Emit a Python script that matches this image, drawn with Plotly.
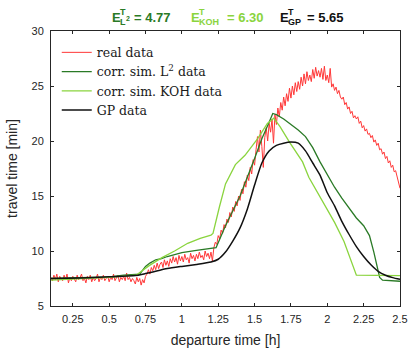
import plotly.graph_objects as go

# ---- data ----
red_x0 = 0.10
red_dx = 0.01
red_y = [
    7.6, 7.3, 7.8, 7.4, 7.9, 7.2, 7.7, 7.5, 7.3, 7.8,
    7.4, 7.9, 7.1, 7.6, 7.3, 7.7, 7.5, 7.2, 7.8, 7.4,
    7.6, 7.9, 7.3, 7.5, 7.1, 7.7, 7.4, 7.8, 7.2, 7.6,
    7.3, 7.5, 7.9, 7.2, 7.6, 7.4, 7.8, 7.3, 7.5, 7.7,
    7.2, 7.6, 7.4, 7.9, 7.3, 7.5, 7.8, 7.2, 7.6, 7.4,
    7.7, 7.3, 8.0, 7.4, 7.6, 7.2, 7.5, 7.3, 7.0, 7.6,
    7.2, 7.5, 6.9, 7.4, 7.1, 7.7, 7.9, 8.3, 7.9, 8.5,
    8.2, 8.7, 8.3, 8.9, 8.4, 8.8, 9.0, 8.5, 9.2, 8.7,
    9.1, 8.6, 9.3, 8.9, 9.5, 9.0, 9.4, 8.8, 9.6, 9.1,
    9.5, 9.0, 9.7, 9.2, 9.4, 8.9, 9.8, 9.3, 9.6, 9.1,
    9.7, 9.3, 9.9, 9.4, 9.6, 9.2, 10.0, 9.5, 9.8, 9.3,
    9.9, 9.1, 10.3, 10.8, 10.6, 11.4, 11.1, 11.9, 11.6, 12.4,
    12.1, 12.9, 12.6, 13.5, 13.1, 14.0, 13.6, 14.5, 14.1, 15.0,
    14.6, 15.6, 15.2, 16.3, 15.8, 16.9, 16.4, 17.6, 17.0, 18.3,
    17.8, 19.2, 20.4, 19.0, 21.0, 19.5, 17.6, 20.3, 21.2, 20.0,
    21.6, 20.8, 22.0, 19.8, 22.4, 21.5, 23.0, 22.2, 23.5, 22.8,
    24.0, 23.2, 24.3, 23.6, 24.8, 23.9, 25.0, 24.2, 25.3, 24.5,
    25.4, 24.7, 25.8, 25.0, 26.1, 25.2, 26.3, 25.5, 26.0, 25.4,
    26.5, 25.7, 26.7, 25.9, 26.4, 25.8, 26.6, 25.6, 26.8, 25.5,
    26.0, 25.3, 26.6, 24.9, 25.2, 24.6, 24.9, 24.3, 24.6, 24.0,
    23.8, 24.0, 23.3, 23.5, 22.9, 23.1, 22.5, 22.7, 22.1, 22.3,
    22.0, 22.2, 21.6, 21.8, 21.2, 21.4, 20.9, 21.1, 20.6, 20.7,
    20.3, 20.5, 19.9, 20.1, 19.6, 19.8, 19.2, 19.3, 18.8, 19.0,
    18.4, 18.6, 18.0, 18.2, 17.6, 17.8, 17.2, 17.3, 16.7, 16.4,
    15.7,
]
red_x = [round(red_x0 + i * red_dx, 4) for i in range(len(red_y))]

l2_x = [0.1, 0.3, 0.5, 0.6, 0.71, 0.75, 0.78, 0.82, 0.86, 0.9, 1.0, 1.1, 1.2, 1.235,
        1.3, 1.4, 1.5, 1.55, 1.6, 1.625, 1.65, 1.7, 1.75, 1.8, 1.85, 1.9, 1.95, 2.0,
        2.05, 2.1, 2.15, 2.2, 2.25, 2.29, 2.32, 2.36, 2.38, 2.5]
l2_y = [7.5, 7.55, 7.65, 7.8, 7.9, 8.6, 8.9, 9.2, 9.3, 9.5, 9.85, 10.05, 10.2, 10.3,
        12.3, 15.0, 18.4, 20.2, 21.7, 22.5, 22.4, 22.0, 21.5, 21.0, 20.4, 19.4, 18.1, 16.9,
        15.8, 14.8, 13.9, 13.0, 12.3, 11.4, 9.9, 7.6, 7.35, 7.25]

koh_x = [0.1, 0.3, 0.5, 0.685, 0.775, 0.863, 0.95, 1.04, 1.126, 1.2, 1.214, 1.258, 1.3,
         1.368, 1.434, 1.52, 1.588, 1.632, 1.675, 1.74, 1.786, 1.83, 1.873, 1.96, 2.05,
         2.115, 2.2, 2.5]
koh_y = [7.36, 7.45, 7.6, 7.8, 8.67, 9.4, 10.0, 10.7, 11.15, 11.45, 11.6, 14.0, 16.1,
         17.85, 18.7, 20.2, 21.6, 22.07, 21.3, 19.9, 19.0, 18.1, 16.7, 14.65, 12.6,
         10.86, 7.8, 7.77]

gp_x = [0.1, 0.3, 0.5, 0.7, 0.75, 0.8, 0.9, 1.0, 1.1, 1.2, 1.25, 1.3, 1.35, 1.4, 1.45,
        1.5, 1.55, 1.6, 1.65, 1.7, 1.75, 1.8, 1.85, 1.9, 1.95, 2.0, 2.05, 2.1, 2.15,
        2.2, 2.25, 2.3, 2.35, 2.4, 2.45, 2.5]
gp_y = [7.5, 7.55, 7.65, 7.8, 7.95, 8.1, 8.4, 8.6, 8.78, 9.0, 9.25, 9.9, 10.9, 12.1, 13.8,
        16.0, 18.0, 19.1, 19.6, 19.8, 19.9, 19.8, 19.1, 18.0, 16.9, 15.3, 14.1, 12.7, 11.5,
        10.4, 9.5, 8.75, 8.15, 7.8, 7.58, 7.42]

x_ticks = [0.25, 0.5, 0.75, 1, 1.25, 1.5, 1.75, 2, 2.25, 2.5]
x_tick_labels = ["0.25", "0.5", "0.75", "1", "1.25", "1.5", "1.75", "2", "2.25", "2.5"]
y_ticks = [5, 10, 15, 20, 25, 30]

legend_names = ["real data", "corr. sim. L<sup>2</sup> data", "corr. sim. KOH data", "GP data"]
err_values = ["4.77", "6.30", "5.65"]

# ---- styles ----
RED = "rgb(255,55,55)"
DGREEN = "#2a7a26"
LGREEN = "#8ad43e"
BLACK = "#111111"
AX = "#262626"

fig = go.Figure()
fig.add_trace(go.Scatter(x=red_x, y=red_y, mode="lines", name=legend_names[0],
                         line=dict(color=RED, width=1)))
fig.add_trace(go.Scatter(x=l2_x, y=l2_y, mode="lines", name=legend_names[1],
                         line=dict(color=DGREEN, width=1.3)))
fig.add_trace(go.Scatter(x=koh_x, y=koh_y, mode="lines", name=legend_names[2],
                         line=dict(color=LGREEN, width=1.3)))
fig.add_trace(go.Scatter(x=gp_x, y=gp_y, mode="lines", name=legend_names[3],
                         line=dict(color=BLACK, width=1.5, shape="spline", smoothing=0.6)))

L, R, T, B = 44, 12, 31, 40
W, H = 420, 357
pw = W - L - R
ph = H - T - B


def px2x(px):
    return (px - L) / pw


def py2y(py):
    return 1 - (py - T) / ph


annots = []
tfont = "Liberation Sans, Arial, sans-serif"


def add_txt(text, px, py, size, color):
    annots.append(dict(text="<b>" + text + "</b>", x=px2x(px), y=py2y(py), xref="paper",
                       yref="paper", xanchor="left", yanchor="middle", showarrow=False,
                       borderpad=0, font=dict(family=tfont, size=size, color=color)))


# title-like error labels
groups = [
    (DGREEN, 107, "L", "2", err_values[0], 130),
    (LGREEN, 189, "KOH", None, err_values[1], 227),
    (BLACK, 282, "GP", None, err_values[2], 310),
]
for color, ex, sub, subsup, val, eqx in groups:
    add_txt("E", ex, 16.5, 13, color)
    add_txt("T", ex + 8, 11, 9, color)
    add_txt(sub, ex + 8, 22, 9, color)
    if subsup:
        add_txt(subsup, ex + 14, 18, 7, color)
    add_txt("= " + val, eqx, 16.5, 13, color)

fig.update_layout(
    width=W, height=H,
    margin=dict(l=L, r=R, t=T, b=B, pad=0),
    paper_bgcolor="white", plot_bgcolor="white",
    showlegend=True,
    legend=dict(x=px2x(50), y=py2y(38), xanchor="left", yanchor="top",
                bgcolor="rgba(0,0,0,0)", borderwidth=0,
                font=dict(family="DejaVu Serif, serif", size=12.5, color="#1a1a1a"),
                tracegroupgap=0, itemwidth=30),
    annotations=annots,
    xaxis=dict(range=[0.1, 2.5], tickvals=x_ticks, ticktext=x_tick_labels,
               ticks="inside", ticklen=3, tickcolor=AX, showline=True, linecolor=AX,
               linewidth=1, mirror="ticks", showgrid=False, zeroline=False,
               ticklabelstandoff=3,
               tickfont=dict(family="Liberation Sans, Arial", size=11, color=AX),
               title=dict(text="departure time [h]", standoff=10,
                          font=dict(family="Liberation Sans, Arial", size=14, color=AX))),
    yaxis=dict(range=[5, 30], tickvals=y_ticks,
               ticks="inside", ticklen=3, tickcolor=AX, showline=True, linecolor=AX,
               linewidth=1, mirror="ticks", showgrid=False, zeroline=False,
               ticklabelstandoff=4,
               tickfont=dict(family="Liberation Sans, Arial", size=11, color=AX),
               title=dict(text="travel time [min]", standoff=10,
                          font=dict(family="Liberation Sans, Arial", size=14, color=AX))),
)

fig.write_html("out.html")
